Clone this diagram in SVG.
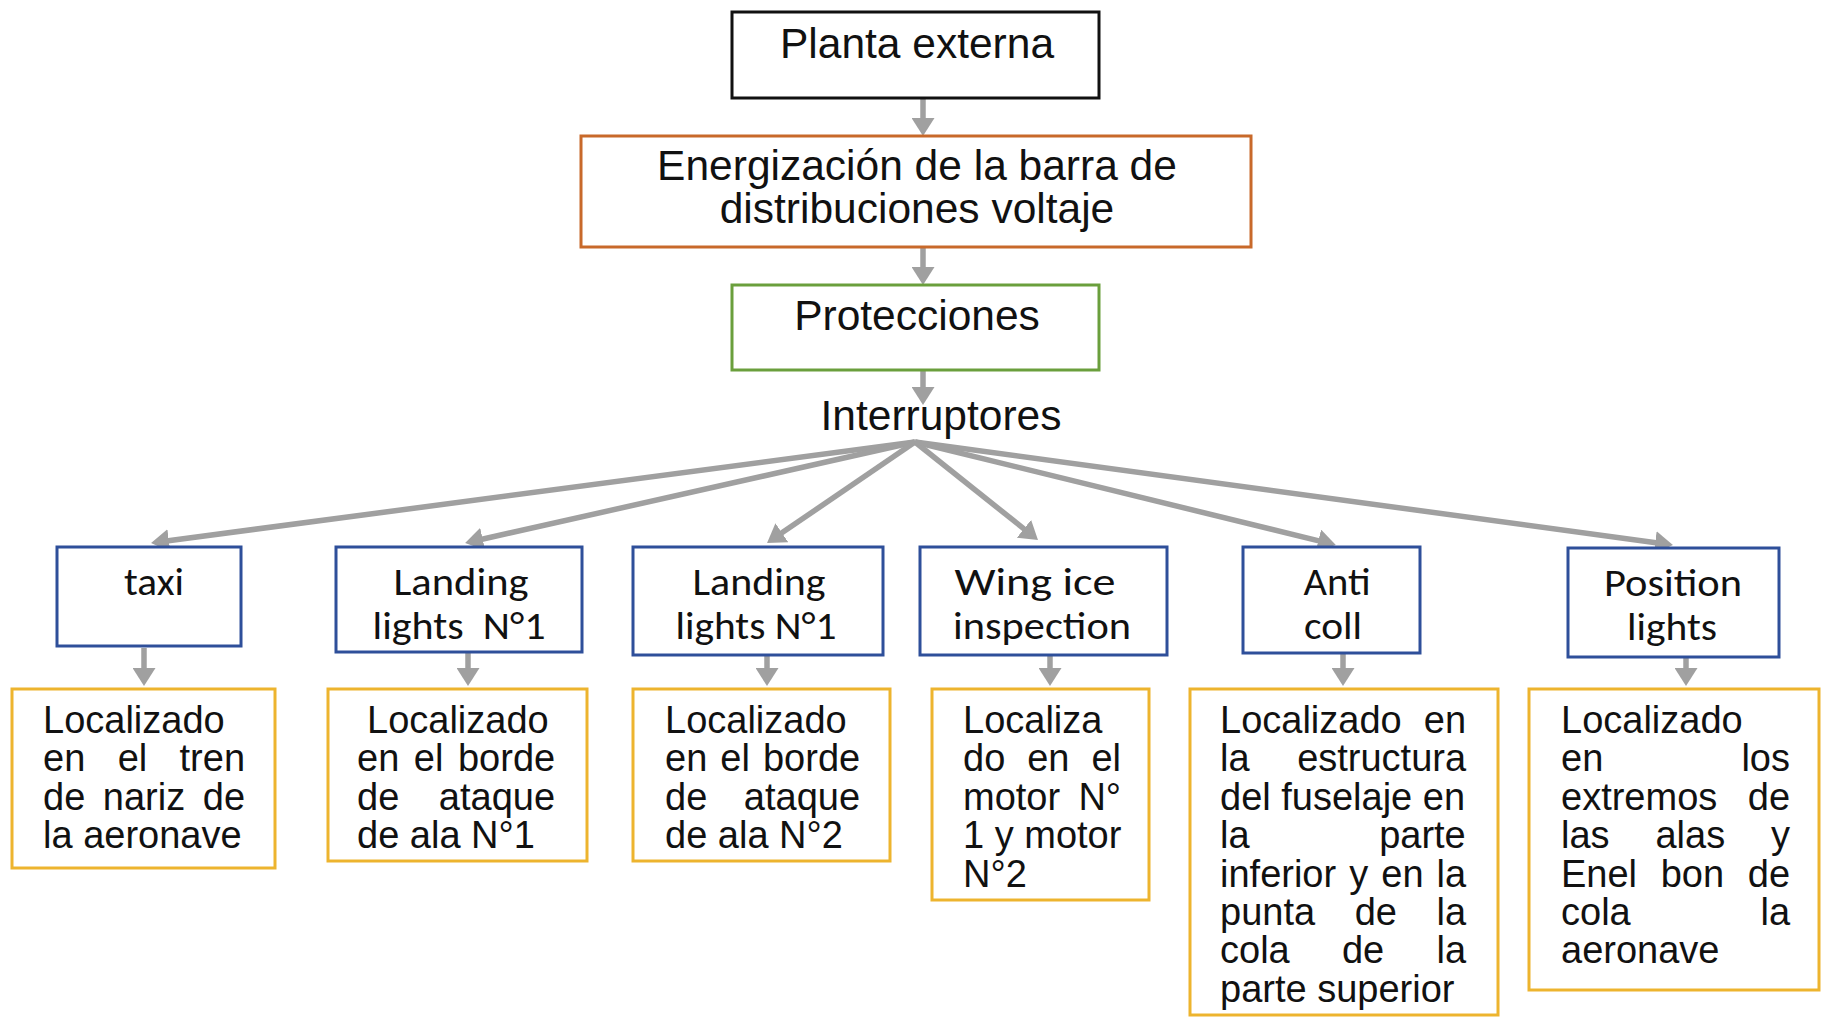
<svg xmlns="http://www.w3.org/2000/svg" width="1822" height="1017" viewBox="0 0 1822 1017">
<style>
.box{fill:#fff;stroke-width:3}
.blk{stroke:#111}
.org{stroke:#C8692A}
.grn{stroke:#6A9F3C}
.blu{stroke:#2E4F9A}
.yel{stroke:#EDB42E}
.ar{font-family:"Liberation Sans",Arial,sans-serif;fill:#111}
.big{font-size:42.5px;text-anchor:middle}
.loc{font-size:38px}
.cal{font-family:Carlito,Lato,"Open Sans",sans-serif;font-size:39px;fill:#111;text-anchor:middle}
.con{stroke:#A0A0A0;stroke-width:5.5;fill:none;marker-end:url(#ah)}
</style>
<defs>
<marker id="ah" viewBox="0 0 18 23" refX="12" refY="11.5" markerWidth="18" markerHeight="23" markerUnits="userSpaceOnUse" orient="auto">
<path d="M0,0 L18,11.5 L0,23 z" fill="#A0A0A0"/>
</marker>
</defs>
<rect width="1822" height="1017" fill="#fff"/>

<g id="connectors">
<line class="con" x1="923" y1="98" x2="923" y2="130"/>
<line class="con" x1="923" y1="247" x2="923" y2="279"/>
<line class="con" x1="923" y1="370" x2="923" y2="399"/>
<line class="con" x1="915" y1="442" x2="157" y2="542.2"/>
<line class="con" x1="915" y1="442" x2="471" y2="541.7"/>
<line class="con" x1="915" y1="442" x2="772" y2="539.6"/>
<line class="con" x1="915" y1="442" x2="1033.3" y2="536.3"/>
<line class="con" x1="915" y1="442" x2="1330" y2="543.6"/>
<line class="con" x1="915" y1="442" x2="1667" y2="544.2"/>
<line class="con" x1="144" y1="648" x2="144" y2="680"/>
<line class="con" x1="468" y1="652" x2="468" y2="680"/>
<line class="con" x1="767" y1="655" x2="767" y2="680"/>
<line class="con" x1="1050" y1="655" x2="1050" y2="680"/>
<line class="con" x1="1343" y1="653" x2="1343" y2="680"/>
<line class="con" x1="1686" y1="657" x2="1686" y2="680"/>
</g>

<g id="planta">
<rect class="box blk" x="732" y="12" width="367" height="86"/>
<text class="ar big" x="917" y="58">Planta externa</text>
</g>
<g id="energizacion">
<rect class="box org" x="581" y="136" width="670" height="111"/>
<text class="ar big" x="917" y="180">Energización de la barra de</text>
<text class="ar big" x="917" y="223">distribuciones voltaje</text>
</g>
<g id="protecciones">
<rect class="box grn" x="732" y="285" width="367" height="85"/>
<text class="ar big" x="917" y="330">Protecciones</text>
</g>
<g id="interruptores">
<text class="ar big" x="941" y="430">Interruptores</text>
</g>

<g id="taxi">
<rect class="box blu" x="57" y="547" width="184" height="99"/>
<text class="cal" x="154" y="595" textLength="60" lengthAdjust="spacingAndGlyphs">taxi</text>
</g>
<g id="landing1">
<rect class="box blu" x="336" y="547" width="246" height="105"/>
<text class="cal" x="461" y="595" textLength="135" lengthAdjust="spacingAndGlyphs">Landing</text>
<text class="cal" x="459" y="639" textLength="173" lengthAdjust="spacingAndGlyphs" xml:space="preserve">lights  N°1</text>
</g>
<g id="landing2">
<rect class="box blu" x="633" y="547" width="250" height="108"/>
<text class="cal" x="759" y="595" textLength="133" lengthAdjust="spacingAndGlyphs">Landing</text>
<text class="cal" x="756" y="639" textLength="161" lengthAdjust="spacingAndGlyphs">lights N°1</text>
</g>
<g id="wing">
<rect class="box blu" x="920" y="547" width="247" height="108"/>
<text class="cal" x="1035" y="595" textLength="161" lengthAdjust="spacingAndGlyphs">Wing ice</text>
<text class="cal" x="1042" y="639" textLength="178" lengthAdjust="spacingAndGlyphs">inspection</text>
</g>
<g id="anticoll">
<rect class="box blu" x="1243" y="547" width="177" height="106"/>
<text class="cal" x="1337" y="595" textLength="67" lengthAdjust="spacingAndGlyphs">Anti</text>
<text class="cal" x="1333" y="639" textLength="58" lengthAdjust="spacingAndGlyphs">coll</text>
</g>
<g id="position">
<rect class="box blu" x="1568" y="548" width="211" height="109"/>
<text class="cal" x="1673" y="596" textLength="138" lengthAdjust="spacingAndGlyphs">Position</text>
<text class="cal" x="1672" y="640" textLength="90" lengthAdjust="spacingAndGlyphs">lights</text>
</g>

<g id="loc-taxi">
<rect class="box yel" x="12" y="689" width="263" height="179"/>
<text class="ar loc" x="43" y="733">Localizado</text>
<text class="ar loc" x="43" y="771.4" word-spacing="21.8">en el tren</text>
<text class="ar loc" x="43" y="809.8" word-spacing="7">de nariz de</text>
<text class="ar loc" x="43" y="848.2">la aeronave</text>
</g>
<g id="loc-landing1">
<rect class="box yel" x="328" y="689" width="259" height="172"/>
<text class="ar loc" x="367" y="733">Localizado</text>
<text class="ar loc" x="357" y="771.4" word-spacing="4">en el borde</text>
<text class="ar loc" x="357" y="809.8" word-spacing="29">de ataque</text>
<text class="ar loc" x="357" y="848.2">de ala N°1</text>
</g>
<g id="loc-landing2">
<rect class="box yel" x="633" y="689" width="257" height="172"/>
<text class="ar loc" x="665" y="733">Localizado</text>
<text class="ar loc" x="665" y="771.4" word-spacing="2.5">en el borde</text>
<text class="ar loc" x="665" y="809.8" word-spacing="26">de ataque</text>
<text class="ar loc" x="665" y="848.2">de ala N°2</text>
</g>
<g id="loc-wing">
<rect class="box yel" x="932" y="689" width="217" height="211"/>
<text class="ar loc" x="963" y="733">Localiza</text>
<text class="ar loc" x="963" y="771.4" word-spacing="11.4">do en el</text>
<text class="ar loc" x="963" y="809.8" word-spacing="7.7">motor N°</text>
<text class="ar loc" x="963" y="848.2">1 y motor</text>
<text class="ar loc" x="963" y="886.6">N°2</text>
</g>
<g id="loc-anticoll">
<rect class="box yel" x="1190" y="689" width="308" height="326"/>
<text class="ar loc" x="1220" y="733" word-spacing="11.5">Localizado en</text>
<text class="ar loc" x="1220" y="771.4" word-spacing="37">la estructura</text>
<text class="ar loc" x="1220" y="809.8">del fuselaje en</text>
<text class="ar loc" x="1220" y="848.2" word-spacing="119">la parte</text>
<text class="ar loc" x="1220" y="886.6" word-spacing="2.5">inferior y en la</text>
<text class="ar loc" x="1220" y="925" word-spacing="29">punta de la</text>
<text class="ar loc" x="1220" y="963.4" word-spacing="41.7">cola de la</text>
<text class="ar loc" x="1220" y="1001.8">parte superior</text>
</g>
<g id="loc-position">
<rect class="box yel" x="1529" y="689" width="290" height="301"/>
<text class="ar loc" x="1561" y="733">Localizado</text>
<text class="ar loc" x="1561" y="771.4" word-spacing="127.6">en los</text>
<text class="ar loc" x="1561" y="809.8" word-spacing="20">extremos de</text>
<text class="ar loc" x="1561" y="848.2" word-spacing="35.3">las alas y</text>
<text class="ar loc" x="1561" y="886.6" word-spacing="13.1">Enel bon de</text>
<text class="ar loc" x="1561" y="925" word-spacing="119.2">cola la</text>
<text class="ar loc" x="1561" y="963.4">aeronave</text>
</g>
</svg>
